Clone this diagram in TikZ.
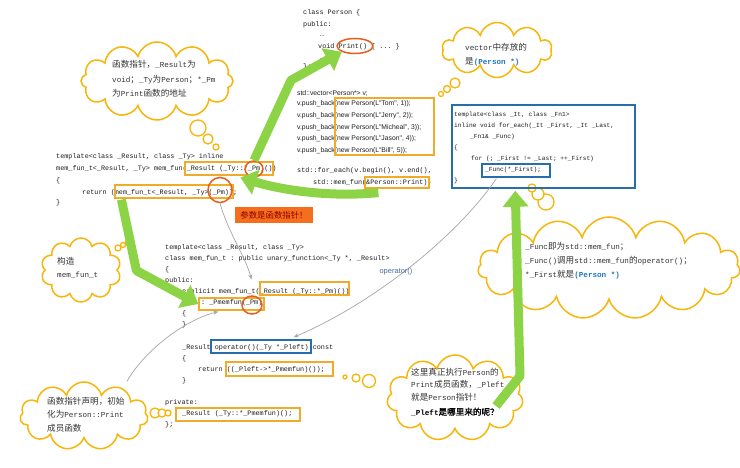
\documentclass[tikz,border=0pt]{standalone}
\usepackage{fontspec}
\setmainfont{Liberation Serif}
\setmonofont{Liberation Mono}
\newfontfamily\cjk{Noto Sans CJK SC}
\newfontfamily\cjkb[FakeBold=1.5]{Noto Sans CJK SC}
\newfontfamily\sansf{Liberation Sans}
\usetikzlibrary{shapes.symbols,shapes.geometric,arrows.meta,calc}
\definecolor{cloudc}{RGB}{246,182,10}
\definecolor{yboxc}{RGB}{240,172,40}
\definecolor{bboxc}{RGB}{40,110,170}
\definecolor{circc}{RGB}{232,95,25}
\definecolor{greenc}{RGB}{140,212,70}
\definecolor{bluetxt}{RGB}{30,120,190}
\definecolor{codec}{RGB}{30,30,30}
\definecolor{labelfill}{RGB}{245,110,30}
\definecolor{labeltxt}{RGB}{140,0,0}
\definecolor{optxt}{RGB}{70,110,160}
\newcommand\zh[1]{{\cjk\fontsize{8.6}{10}\selectfont #1}}
\newcommand\zhb[1]{{\cjkb\fontsize{8.6}{10}\selectfont #1}}
\begin{document}
\begin{tikzpicture}[x=1pt,y=-1pt,
  code/.style={font=\ttfamily\fontsize{6.8}{8}\selectfont, text=codec, anchor=base west, inner sep=0},
  codes/.style={font=\ttfamily\fontsize{6.2}{8}\selectfont, text=codec, anchor=base west, inner sep=0},
  sanscode/.style={font=\sansf\fontsize{6.8}{8}\selectfont, text=codec, anchor=base west, inner sep=0},
  cltext/.style={font=\ttfamily\fontsize{7.6}{9}\selectfont, text=black!80, anchor=base west, inner sep=0},
  ybox/.style={draw=yboxc, line width=1.2pt, rectangle, inner sep=0},
  bbox/.style={draw=bboxc, line width=1.5pt, rectangle, inner sep=0},
  ocir/.style={draw=circc, line width=1.5pt, ellipse, inner sep=0},
  cloudy/.style={cloud, draw=cloudc, line width=1.5pt, fill=white, cloud ignores aspect, inner sep=0},
  bub/.style={draw=cloudc, line width=1.3pt, fill=white},
  garrow/.style={draw=greenc, line width=9pt, line join=round, -{Triangle[width=25pt,length=16pt]}},
  gline/.style={draw=gray!70, line width=0.7pt, -{Stealth[length=5pt,width=4pt]}},
]
\useasboundingbox (0,0) rectangle (740,468);
\fill[white] (0,0) rectangle (740,468);

% ---------- clouds ----------
\node[cloudy, cloud puffs=12, minimum width=152, minimum height=78] (c1) at (157,81) {};
\node[cloudy, cloud puffs=10, minimum width=110, minimum height=55] (c2) at (497,50) {};
\node[cloudy, cloud puffs=15, minimum width=262, minimum height=102] (c3) at (609,268) {};
\node[cloudy, cloud puffs=11, minimum width=128, minimum height=68] (c4) at (84,416) {};
\node[cloudy, cloud puffs=11, minimum width=136, minimum height=86] (c5) at (455,398) {};
\node[cloudy, cloud puffs=10, minimum width=80, minimum height=64] (c6) at (81,270) {};

% bubbles
\draw[bub] (198,128) circle (8);
\draw[bub] (208,139) circle (5);
\draw[bub] (216,147) circle (3);
\draw[bub] (455,83) circle (5);
\draw[bub] (447,89) circle (3.5);
\draw[bub] (441,94) circle (2.5);
\draw[bub] (546,202) circle (8);
\draw[bub] (538,194) circle (6);
\draw[bub] (532,188) circle (4);
\draw[bub] (155,413) circle (5);
\draw[bub] (162,413) circle (4);
\draw[bub] (168,413) circle (3);
\draw[bub] (369,381) circle (6.5);
\draw[bub] (356,378) circle (4);
\draw[bub] (345,377) circle (2);
\draw[bub] (118,248) circle (3);
\draw[bub] (123,245) circle (2.5);
\draw[bub] (127,243) circle (2);

% cloud texts
\node[cltext] (t1a) at (112,68) {\zh{函数指针，}\_Result\zh{为}};
\node[cltext] (t1b) at (112,83) {void\zh{；}\_Ty\zh{为}Person\zh{；}*\_Pm};
\node[cltext] (t1c) at (112,97) {\zh{为}Print\zh{函数的地址}};
\node[cltext] (t2a) at (465,51) {vector\zh{中存放的}};
\node[cltext] (t2b) at (465,65) {\zh{是}\textcolor{bluetxt}{\textbf{(Person *)}}};
\node[cltext] (t3a) at (525,250) {\_Func\zh{即为}std::mem\_fun\zh{；}};
\node[cltext] (t3b) at (525,264) {\_Func()\zh{调用}std::mem\_fun\zh{的}operator()\zh{；}};
\node[cltext] (t3c) at (525,278) {*\_First\zh{就是}\textcolor{bluetxt}{\textbf{(Person *)}}};
\node[cltext] (t4a) at (47,404) {\zh{函数指针声明，初始}};
\node[cltext] (t4b) at (47,417) {\zh{化为}Person::Print};
\node[cltext] (t4c) at (47,431) {\zh{成员函数}};
\node[cltext] (t5a) at (411,375) {\zh{这里真正执行}Person\zh{的}};
\node[cltext] (t5b) at (411,387.5) {Print\zh{成员函数，}\_Pleft};
\node[cltext] (t5c) at (411,400) {\zh{就是}Person\zh{指针！}};
\node[cltext, text=black] (t5d) at (411,415) {\textbf{\_Pleft}\zhb{是哪里来的呢？}};
\node[cltext] (t6a) at (57,265) {\zh{构造}};
\node[cltext] (t6b) at (57,278) {mem\_fun\_t};

% ---------- class Person ----------
\node[code] (p1) at (303,14.5) {class Person  \{};
\node[code] (p2) at (303,26.5) {public:};
\node[code] (p3) at (320,37) {…};
\node[code] (p4) at (318,48.5) {void Print() \{  ...   \}};
\node[code] (p5) at (320,60) {…};
\node[code] (p6) at (303,69) {\};};

% ---------- vector code ----------
\node[sanscode] (v1) at (297,95.5) {std::vector<Person*> v;};
\node[sanscode] (v2) at (297,105.8) {v.push\_back(new Person(L"Tom", 1));};
\node[sanscode] (v3) at (297,117.5) {v.push\_back(new Person(L"Jerry", 2));};
\node[sanscode] (v4) at (297,129.2) {v.push\_back(new Person(L"Micheal", 3));};
\node[sanscode] (v5) at (297,140.8) {v.push\_back(new Person(L"Jason", 4));};
\node[sanscode] (v6) at (297,152.5) {v.push\_back(new Person(L"Bill", 5));};
\node[code] (f1) at (297,172.5) {std::for\_each(v.begin(), v.end(),};
\node[code] (f2) at (313,184.5) {std::mem\_fun(\&Person::Print))};

% ---------- left code ----------
\node[code] (l1) at (56,158.5) {template<class \_Result, class \_Ty> inline};
\node[code] (l2) at (56,170.5) {mem\_fun\_t<\_Result, \_Ty> mem\_fun(\_Result (\_Ty::*\_Pm)())};
\node[code] (l3) at (56,182.5) {\{};
\node[code] (l4) at (82,194.5) {return (mem\_fun\_t<\_Result, \_Ty>(\_Pm));};
\node[code] (l5) at (56,205) {\}};

% ---------- for_each code ----------
\node[codes] (r1) at (454,116.5) {template<class \_It, class \_Fn1>};
\node[codes] (r2) at (454,127.5) {inline void for\_each(\_It \_First, \_It \_Last,};
\node[codes] (r3) at (470,138.5) {\_Fn1\& \_Func)};
\node[codes] (r4) at (454,149.5) {\{};
\node[codes] (r5) at (471,160.5) {for (; \_First != \_Last; ++\_First)};
\node[codes] (r6) at (485,171.5) {\_Func(*\_First);};
\node[codes] (r7) at (454,182.5) {\}};

% ---------- mem_fun_t class ----------
\node[code] (m0) at (165,249.5) {template<class \_Result, class \_Ty>};
\node[code] (m1) at (165,260.56) {class mem\_fun\_t : public unary\_function<\_Ty *, \_Result>};
\node[code] (m2) at (165,271.62) {\{};
\node[code] (m3) at (165,282.68) {public:};
\node[code] (m4) at (182,293.74) {explicit mem\_fun\_t(\_Result (\_Ty::*\_Pm)())};
\node[code] (m5) at (201,304.8) {: \_Pmemfun(\_Pm)};
\node[code] (m6) at (182,315.86) {\{};
\node[code] (m7) at (182,326.92) {\}};
\node[code] (m9) at (182,349.04) {\_Result operator()(\_Ty *\_Pleft) const};
\node[code] (m10) at (182,360.1) {\{};
\node[code] (m11) at (198,371.16) {return ((\_Pleft->*\_Pmemfun)());};
\node[code] (m12) at (182,382.22) {\}};
\node[code] (m14) at (165,404.34) {private:};
\node[code] (m15) at (182,415.4) {\_Result (\_Ty::*\_Pmemfun)();};
\node[code] (m16) at (165,426.46) {\};};

% ---------- boxes ----------
\node[ybox, minimum width=88, minimum height=13] (pmbox) at (229,168.5) {};
\node[ybox, minimum width=118, minimum height=13] (mfbox) at (174,191.5) {};
\node[ybox, minimum width=99, minimum height=57] (newbox) at (384.5,126.5) {};
\node[ybox, minimum width=64, minimum height=11] (printbox) at (397,182.5) {};
\node[bbox, minimum width=183, minimum height=83] (feach) at (543.5,146.5) {};
\node[bbox, line width=1.3pt, minimum width=68, minimum height=13] (funcbox) at (516,170.5) {};
\node[ybox, minimum width=89, minimum height=13] (ctorbox) at (304.5,288.5) {};
\node[ybox, minimum width=65, minimum height=12] (pmembox) at (231.5,304) {};
\node[bbox, minimum width=100, minimum height=13] (opbox) at (261,346.5) {};
\node[ybox, minimum width=107, minimum height=14] (retbox) at (279.5,369) {};
\node[ybox, minimum width=124, minimum height=13] (privbox) at (238,414.5) {};

% ---------- orange circles ----------
\node[ocir, minimum width=36, minimum height=15] (printc) at (355,46) {};
\node[ocir, minimum width=18, minimum height=16] (pm1) at (254,169) {};
\node[ocir, minimum width=24, minimum height=25] (pm2) at (220,190) {};
\node[ocir, minimum width=20, minimum height=18] (pm3) at (252,305) {};

% ---------- gray arrows ----------
\draw[gline] ($(funcbox.south west)+(15,1)$) .. controls (460,232) and (380,300) .. ($(opbox.north east)+(-18,-2)$);
\node[font=\sansf\fontsize{7.5}{9}\selectfont, text=optxt, inner sep=0] (oplabel) at (396,272) {operator()};
\draw[gline] (pm2.south) .. controls (228,232) and (246,258) .. ($(ctorbox.north west)+(-8,-2)$);
\draw[gline] ($(c4.north)+(43,0)$) .. controls (145,350) and (185,320) .. ($(pmembox.south west)+(20,1)$);

% ---------- red label ----------
\node[fill=labelfill, minimum width=78, minimum height=16, inner sep=0, text=labeltxt,
      font=\cjk\fontsize{8.4}{10}\selectfont] (redlabel) at (274,215) {参数是函数指针！};

% ---------- green arrows ----------
\draw[garrow] (pm1.north) -- ++(37,-80) -- (printc.south west);
\draw[garrow] ($(printbox.south west)+(14,4)$) .. controls +(-50,5) and +(40,12) .. ($(pmbox.south west)+(56,2)$);
\draw[garrow] ($(mfbox.south west)+(7,1)$) -- ++(15,71) -- (pmembox.west);
\draw[garrow] ($(c5.center)+(41,8)$) -- ++(24,-30) -- ($(feach.south west)+(64,2)$);
\end{tikzpicture}
\end{document}
